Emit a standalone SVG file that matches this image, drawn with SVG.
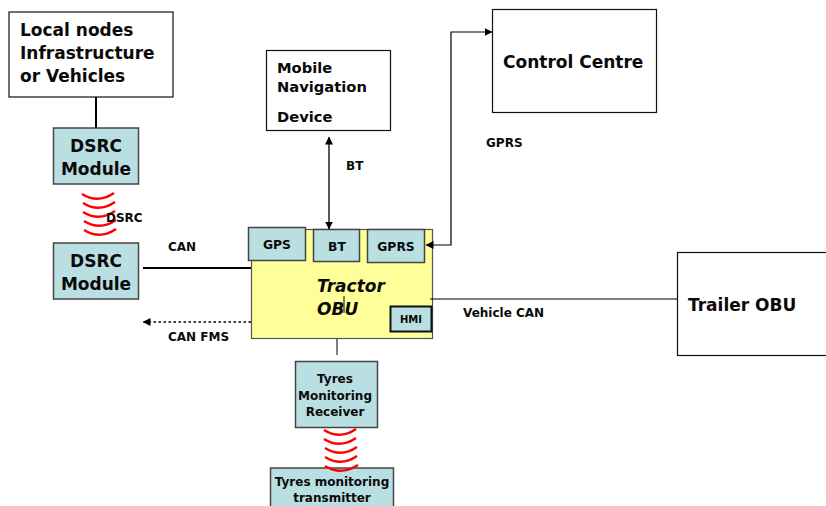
<svg xmlns="http://www.w3.org/2000/svg" width="826" height="506" viewBox="0 0 826 506">
<style>
text{font-family:"DejaVu Sans","Liberation Sans",sans-serif;font-weight:700;fill:#0a0a0a}
.w{fill:#fff;stroke:#111;stroke-width:1.2}
.b{fill:#b9dfe3;stroke:#444;stroke-width:1.5}
.l{fill:none;stroke:#000}
.r{fill:none;stroke:#f00;stroke-width:2.4}
.m{text-anchor:middle}
.s{font-size:12px}
.c{font-size:12.300px}
.n{font-size:17px}
</style>
<defs>
<marker id="a" viewBox="0 0 8 8" refX="7.5" refY="4" markerWidth="8" markerHeight="8" markerUnits="userSpaceOnUse" orient="auto-start-reverse"><path d="M0 0L8 4L0 8z" fill="#000"/></marker>
</defs>
<g id="local-nodes"><rect class="w" x="9" y="12" width="164" height="85"/><text class="n" x="20" y="36">Local nodes</text><text class="n" x="20" y="59">Infrastructure</text><text class="n" x="20" y="82">or Vehicles</text></g>
<g id="dsrc-1"><rect class="b" x="53.500" y="128" width="85" height="56"/><text class="n m" x="96" y="152">DSRC</text><text class="n m" x="96" y="175">Module</text></g>
<g id="dsrc-2"><rect class="b" x="53.500" y="243" width="85" height="56"/><text class="n m" x="96" y="267">DSRC</text><text class="n m" x="96" y="290">Module</text></g>
<g id="mobile"><rect class="w" x="266.500" y="50.500" width="124" height="80"/><text x="277" y="73" font-size="14.700">Mobile</text><text x="277" y="92" font-size="14.700">Navigation</text><text x="277" y="122" font-size="14.700">Device</text></g>
<g id="control"><rect class="w" x="492.500" y="9.500" width="164" height="103"/><text class="n" x="503" y="68">Control Centre</text></g>
<g id="tractor"><rect x="251.500" y="229.500" width="181" height="109" fill="#ffff99" stroke="#555" stroke-width="1.200"/><text x="317" y="292" font-size="17" font-style="italic">Tractor</text><text x="317" y="315" font-size="17" font-style="italic">OBU</text><path class="l" stroke-width="1" d="M344 296V313"/></g>
<g id="gps"><rect class="b" x="248.500" y="227.500" width="57" height="33"/><text class="c m" x="277" y="249">GPS</text></g>
<g id="bt"><rect class="b" x="313.500" y="229.500" width="46" height="32"/><text class="c m" x="337" y="251">BT</text></g>
<g id="gprs"><rect class="b" x="367.500" y="229.500" width="57" height="33"/><text class="c m" x="396" y="251">GPRS</text></g>
<g id="hmi"><rect x="390.500" y="306.500" width="41" height="25" fill="#b9dfe3" stroke="#111" stroke-width="2"/><text class="m" x="411" y="323" font-size="10">HMI</text></g>
<g id="trailer"><rect class="w" x="677.500" y="252.500" width="160" height="103"/><text class="n" x="688" y="311">Trailer OBU</text></g>
<g id="tyres-rx"><rect class="b" x="295.500" y="361.500" width="82" height="66"/><text class="s m" x="335" y="383">Tyres</text><text class="s m" x="335" y="400">Monitoring</text><text class="s m" x="335" y="416">Receiver</text></g>
<g id="tyres-tx"><rect class="b" x="270.500" y="468" width="123" height="44"/><text class="s m" x="332" y="486">Tyres monitoring</text><text class="s m" x="332" y="502">transmitter</text></g>
<g id="connectors">
<path class="l" stroke-width="2" d="M96 97V128"/>
<path class="l" stroke-width="2" d="M143 268H251"/>
<path class="l" stroke-width="1.500" stroke-dasharray="2.500 2.500" d="M251 322H143" marker-end="url(#a)"/>
<path class="l" stroke-width="1.300" d="M329 137V229" marker-start="url(#a)" marker-end="url(#a)"/>
<path class="l" stroke-width="1.200" d="M426 245H451V32H492" marker-start="url(#a)" marker-end="url(#a)"/>
<path class="l" stroke-width="1" d="M430 299H677"/>
<path class="l" stroke-width="1" d="M337 339V355"/>
<g id="wave-dsrc">
<path class="r" d="M82 194Q98 204 114 193"/>
<path class="r" d="M83 203Q99 213 115 202"/>
<path class="r" d="M83 212Q99 222 115 211"/>
<path class="r" d="M84 221Q100 231 116 220"/>
<path class="r" d="M84 230Q100 240 116 229"/>
</g>
<g id="wave-tyres">
<path class="r" d="M324 430Q340 440 356 429"/>
<path class="r" d="M324 439Q340 449 356 438"/>
<path class="r" d="M325 448Q341 458 357 447"/>
<path class="r" d="M325 457Q341 467 357 456"/>
<path class="r" d="M325 466Q341 476 358 465"/>
</g>
</g>
<g id="labels">
<text class="s" x="106" y="222">DSRC</text>
<text class="s" x="168" y="251">CAN</text>
<text class="s" x="168" y="341">CAN FMS</text>
<text class="s" x="346" y="170">BT</text>
<text class="s" x="486" y="147">GPRS</text>
<text class="s" x="463" y="317">Vehicle CAN</text>
</g>
</svg>
